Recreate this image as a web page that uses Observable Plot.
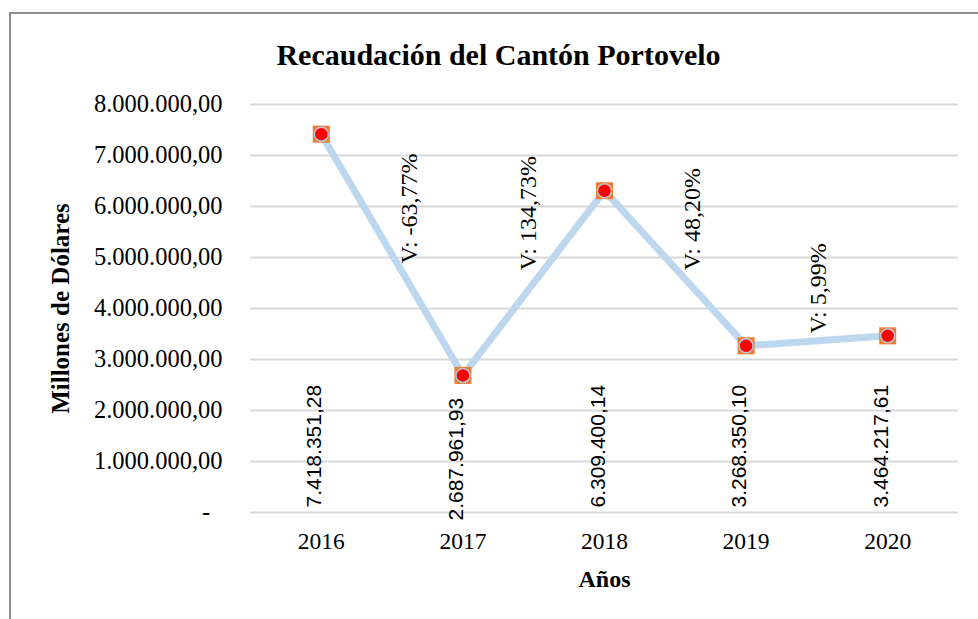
<!DOCTYPE html>
<html><head><meta charset="utf-8">
<script src="https://cdn.jsdelivr.net/npm/d3@7"></script>
<script src="https://cdn.jsdelivr.net/npm/@observablehq/plot@0.6"></script>
<style>
body{margin:0;background:#fff;width:978px;height:619px;overflow:hidden;position:relative;}
#frame{position:absolute;left:9px;top:12px;width:1000px;height:700px;border-top:2px solid #8f8f8f;border-left:2px solid #8f8f8f;}
#title{position:absolute;left:0;width:997px;top:40px;text-align:center;font:bold 30px "Liberation Serif";line-height:30px;color:#000;}
#chart{position:absolute;left:0;top:80px;}
</style></head><body>
<div id="frame"></div>
<div id="title">Recaudación del Cantón Portovelo</div>
<div id="chart"></div>
<script>
const years = [2016, 2017, 2018, 2019, 2020];
const values = [7418351.28, 2687961.93, 6309400.14, 3268350.10, 3464217.61];
const yTicks = [0, 1000000, 2000000, 3000000, 4000000, 5000000, 6000000, 7000000, 8000000];
const variationLabels = ["V: -63,77%", "V: 134,73%", "V: 48,20%", "V: 5,99%"];
const variationX = [2016.62, 2017.46, 2018.62, 2019.51];
const variationY = [4880000, 4750000, 4750000, 3510000];

const loc = d3.formatLocale({decimal: ",", thousands: ".", grouping: [3], currency: ["", ""]});
const fmt = loc.format(",.2f");
const data = years.map((y, i) => ({year: y, value: values[i], label: fmt(values[i])}));
const vdata = variationLabels.map((t, i) => ({x: variationX[i], y: variationY[i], t}));

const serif = "Liberation Serif";
const chart = Plot.plot({
  width: 978,
  height: 539,
  marginTop: 24,
  marginBottom: 107,
  marginLeft: 250,
  marginRight: 20,
  style: {fontFamily: serif, background: "transparent", color: "#000", overflow: "visible"},
  x: {domain: [2015.5, 2020.5]},
  y: {domain: [0, 8000000]},
  marks: [
    Plot.gridY(yTicks, {stroke: "#d9d9d9", strokeOpacity: 1, strokeWidth: 2}),
    Plot.axisY(yTicks, {
      tickSize: 0, tickPadding: 28, fontSize: 24.5,
      tickFormat: d => d === 0 ? "-\u2002" : fmt(d),
      label: "Millones de Dólares", labelAnchor: "center", labelOffset: 199, labelArrow: "none"
    }),
    Plot.axisX(years, {
      tickSize: 0, tickPadding: 20, fontSize: 23.5,
      tickFormat: d => String(d),
      label: "Años", labelAnchor: "center", labelOffset: 74, labelArrow: "none"
    }),
    Plot.lineY(data, {x: "year", y: "value", stroke: "#bdd7ee", strokeWidth: 7}),
    Plot.dot(data, {x: "year", y: "value", symbol: "square", r: 9.6, fill: "#ed7d31", stroke: "none"}),
    Plot.dot(data, {x: "year", y: "value", r: 7, fill: "#ff0000", stroke: "#b8c6da", strokeWidth: 1.5}),
    Plot.text(data.filter(d => d.year !== 2017), {x: "year", frameAnchor: "bottom", dy: -5, text: "label", rotate: -90, textAnchor: "start", fontSize: 21, fontFamily: "Liberation Sans", fill: "#000"}),
    Plot.text(data.filter(d => d.year === 2017), {x: "year", frameAnchor: "bottom", dy: 8, text: "label", rotate: -90, textAnchor: "start", fontSize: 21, fontFamily: "Liberation Sans", fill: "#000"}),
    Plot.text(vdata, {x: "x", y: "y", text: "t", rotate: -90, textAnchor: "start", fontSize: 24, fontFamily: serif, fill: "#000"})
  ]
});
document.getElementById("chart").appendChild(chart);
chart.querySelectorAll("g[aria-label='y-axis label'], g[aria-label='x-axis label']").forEach(g => {
  g.setAttribute("font-size", g.getAttribute("aria-label").startsWith("y") ? "25" : "24");
  g.setAttribute("font-weight", "bold");
});
</script>
</body></html>
